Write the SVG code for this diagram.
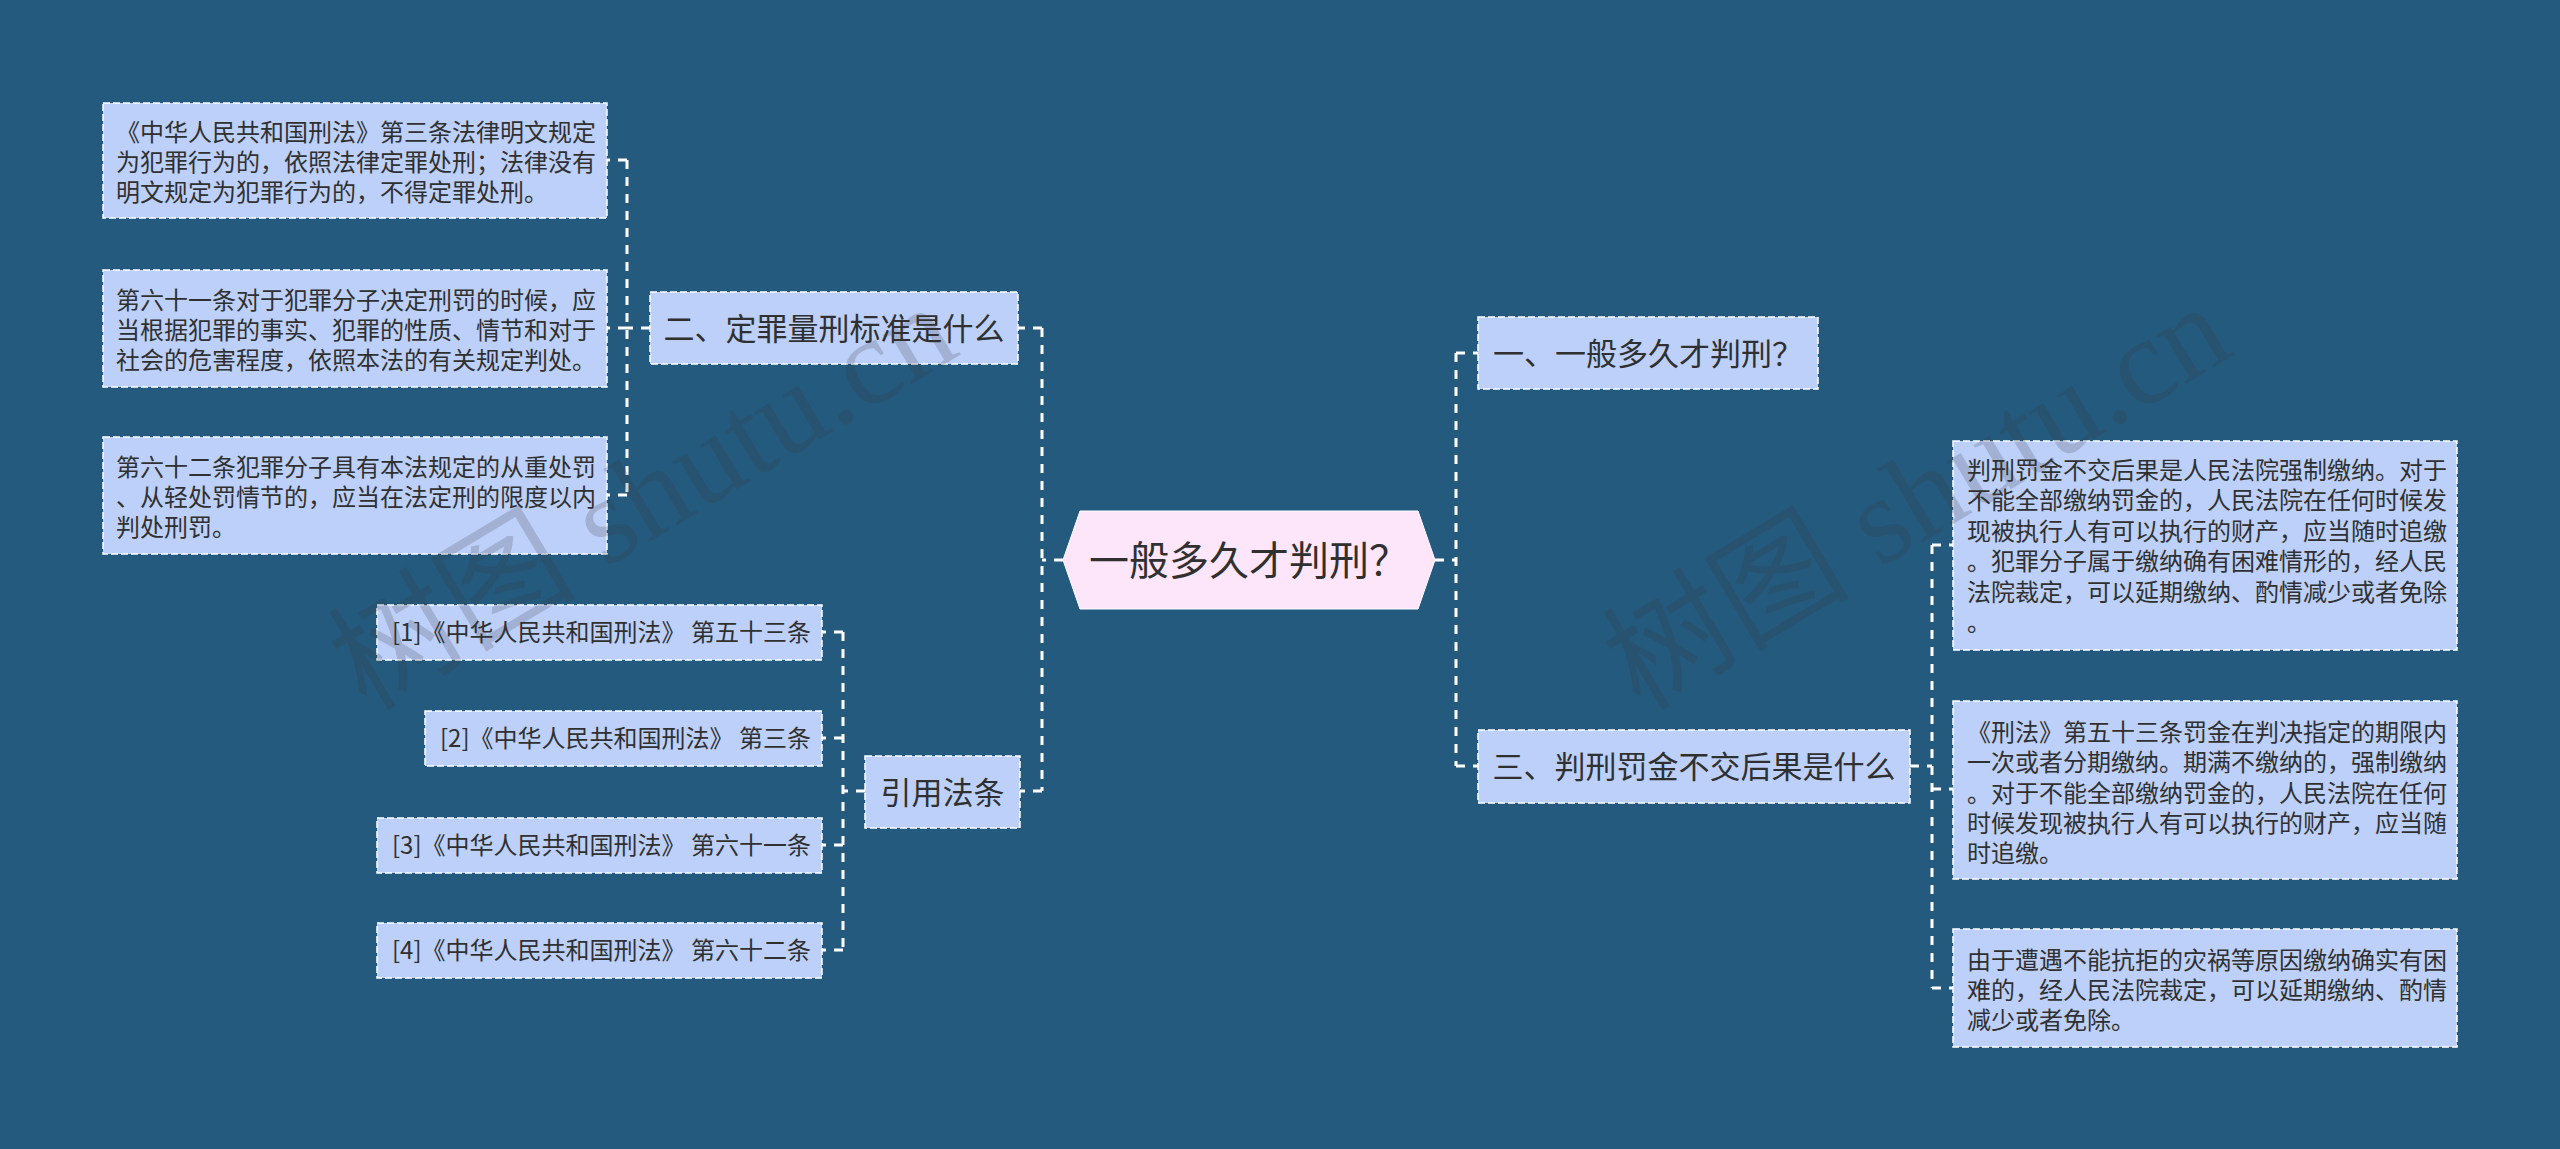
<svg xmlns="http://www.w3.org/2000/svg" width="2560" height="1149" viewBox="0 0 2560 1149">
<style>
.box{fill:#BCD0FA;stroke:#FFFFFF;stroke-width:1.5;stroke-dasharray:7 3}
.root{fill:#FDE5FA;stroke:#FFFFFF;stroke-width:1}
.t{font-family:"Noto Sans CJK SC","Noto Sans",sans-serif;fill:#303030}
.s24{font-size:24px}
.s31{font-size:31px}
.s40{font-size:40px}
.conn{fill:none;stroke:#FFFFFF;stroke-width:3;stroke-dasharray:9 8}
.wm{font-family:"Liberation Serif","Noto Sans CJK SC",serif;font-size:124px;fill:#3C3C3C;opacity:0.2}
</style>
<rect x="0" y="0" width="2560" height="1149" fill="#245A7E"/>

<g id="connectors">
<path class="conn" d="M1063,560 H1042"/>
<path class="conn" d="M1042,328 V791"/>
<path class="conn" d="M1042,328 H1018"/>
<path class="conn" d="M1042,791 H1020"/>
<path class="conn" d="M1435,560 H1456"/>
<path class="conn" d="M1456,353 V766"/>
<path class="conn" d="M1456,353 H1478"/>
<path class="conn" d="M1456,766 H1478"/>
<path class="conn" d="M650,328 H627"/>
<path class="conn" d="M627,160 V495"/>
<path class="conn" d="M627,160 H607"/>
<path class="conn" d="M627,328 H607"/>
<path class="conn" d="M627,495 H607"/>
<path class="conn" d="M865,791 H843"/>
<path class="conn" d="M843,632 V950"/>
<path class="conn" d="M843,632 H822"/>
<path class="conn" d="M843,738 H822"/>
<path class="conn" d="M843,845 H822"/>
<path class="conn" d="M843,950 H822"/>
<path class="conn" d="M1910,766 H1932"/>
<path class="conn" d="M1932,545 V988"/>
<path class="conn" d="M1932,545 H1953"/>
<path class="conn" d="M1932,789 H1953"/>
<path class="conn" d="M1932,988 H1953"/>
</g>

<g id="root">
<polygon class="root" points="1063,560 1080,511 1418,511 1435,560 1418,609 1080,609"/>
<text class="t s40" x="1249" y="575" text-anchor="middle">一般多久才判刑？</text>
</g>

<g id="n-er">
<rect class="box" x="650" y="292" width="368" height="72"/>
<text class="t s31" x="834" y="340" text-anchor="middle">二、定罪量刑标准是什么</text>
</g>

<g id="n-yinyong">
<rect class="box" x="865" y="756" width="155" height="72"/>
<text class="t s31" x="942.5" y="804" text-anchor="middle">引用法条</text>
</g>

<g id="n-yi">
<rect class="box" x="1478" y="317" width="340" height="72"/>
<text class="t s31" x="1648" y="365" text-anchor="middle">一、一般多久才判刑？</text>
</g>

<g id="n-san">
<rect class="box" x="1478" y="730" width="432" height="73"/>
<text class="t s31" x="1694" y="778" text-anchor="middle">三、判刑罚金不交后果是什么</text>
</g>

<g id="l1">
<rect class="box" x="103" y="103" width="504" height="115"/>
<text class="t s24" x="116" y="141">《中华人民共和国刑法》第三条法律明文规定</text>
<text class="t s24" x="116" y="171">为犯罪行为的，依照法律定罪处刑；法律没有</text>
<text class="t s24" x="116" y="201">明文规定为犯罪行为的，不得定罪处刑。</text>
</g>

<g id="l2">
<rect class="box" x="103" y="270" width="504" height="117"/>
<text class="t s24" x="116" y="309">第六十一条对于犯罪分子决定刑罚的时候，应</text>
<text class="t s24" x="116" y="339">当根据犯罪的事实、犯罪的性质、情节和对于</text>
<text class="t s24" x="116" y="369">社会的危害程度，依照本法的有关规定判处。</text>
</g>

<g id="l3">
<rect class="box" x="103" y="437" width="504" height="117"/>
<text class="t s24" x="116" y="476">第六十二条犯罪分子具有本法规定的从重处罚</text>
<text class="t s24" x="116" y="506">、从轻处罚情节的，应当在法定刑的限度以内</text>
<text class="t s24" x="116" y="536">判处刑罚。</text>
</g>

<g id="c1">
<rect class="box" x="377" y="605" width="445" height="55"/>
<text class="t s24" x="392" y="641">[1]《中华人民共和国刑法》 第五十三条</text>
</g>
<g id="c2">
<rect class="box" x="425" y="711" width="397" height="55"/>
<text class="t s24" x="440" y="747">[2]《中华人民共和国刑法》 第三条</text>
</g>
<g id="c3">
<rect class="box" x="377" y="818" width="445" height="55"/>
<text class="t s24" x="392" y="854">[3]《中华人民共和国刑法》 第六十一条</text>
</g>
<g id="c4">
<rect class="box" x="377" y="923" width="445" height="55"/>
<text class="t s24" x="392" y="959">[4]《中华人民共和国刑法》 第六十二条</text>
</g>

<g id="r1">
<rect class="box" x="1953" y="441" width="504" height="209"/>
<text class="t s24" x="1967" y="479">判刑罚金不交后果是人民法院强制缴纳。对于</text>
<text class="t s24" x="1967" y="509">不能全部缴纳罚金的，人民法院在任何时候发</text>
<text class="t s24" x="1967" y="540">现被执行人有可以执行的财产，应当随时追缴</text>
<text class="t s24" x="1967" y="570">。犯罪分子属于缴纳确有困难情形的，经人民</text>
<text class="t s24" x="1967" y="601">法院裁定，可以延期缴纳、酌情减少或者免除</text>
<text class="t s24" x="1967" y="631">。</text>
</g>

<g id="r2">
<rect class="box" x="1953" y="701" width="504" height="178"/>
<text class="t s24" x="1967" y="741">《刑法》第五十三条罚金在判决指定的期限内</text>
<text class="t s24" x="1967" y="771">一次或者分期缴纳。期满不缴纳的，强制缴纳</text>
<text class="t s24" x="1967" y="802">。对于不能全部缴纳罚金的，人民法院在任何</text>
<text class="t s24" x="1967" y="832">时候发现被执行人有可以执行的财产，应当随</text>
<text class="t s24" x="1967" y="862">时追缴。</text>
</g>

<g id="r3">
<rect class="box" x="1953" y="929" width="504" height="118"/>
<text class="t s24" x="1967" y="969">由于遭遇不能抗拒的灾祸等原因缴纳确实有困</text>
<text class="t s24" x="1967" y="999">难的，经人民法院裁定，可以延期缴纳、酌情</text>
<text class="t s24" x="1967" y="1029">减少或者免除。</text>
</g>

<g id="watermarks">
<text class="wm" x="366" y="712" transform="rotate(-31 366 712)">树图 shutu.cn</text>
<text class="wm" x="1640" y="712" transform="rotate(-31 1640 712)">树图 shutu.cn</text>
</g>
</svg>
